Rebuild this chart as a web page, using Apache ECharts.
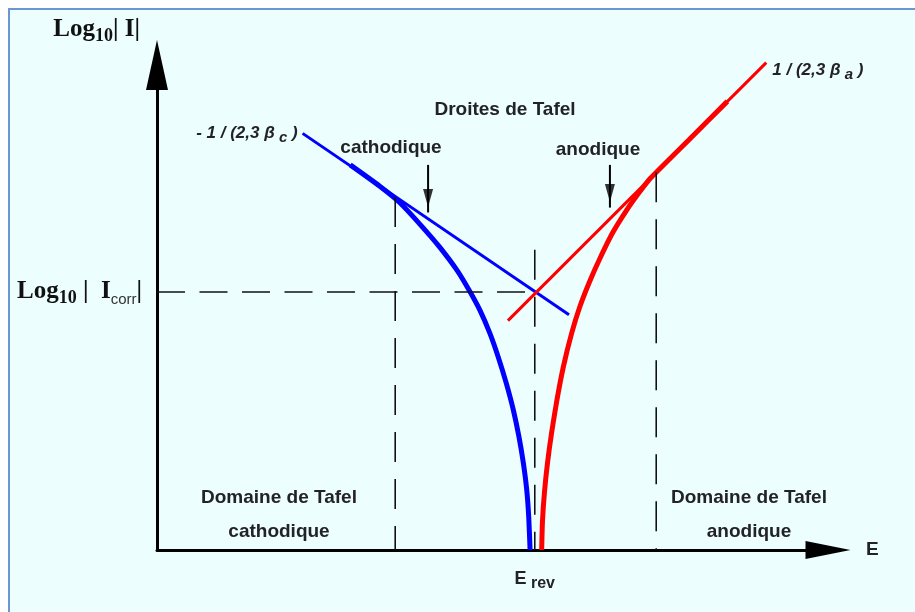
<!DOCTYPE html>
<html>
<head>
<meta charset="utf-8">
<script src="https://cdn.jsdelivr.net/npm/echarts@6/dist/echarts.min.js"></script>
<style>
  html, body { margin: 0; padding: 0; background: #ffffff; width: 915px; height: 612px; overflow: hidden; }
  #frame { position: absolute; left: 8px; top: 8px; width: 930px; height: 630px; background: #ecfefe;
           border-left: 2px solid #6a96d4; border-top: 2px solid #6a96d4; }
  #chart { position: absolute; left: 0; top: 0; width: 915px; height: 612px; }
</style>
</head>
<body>
<div id="frame"></div>
<div id="chart"></div>
<script>
// Tafel diagram: log10|I| versus electrode potential E (arbitrary units, 0..100 on both axes)

const E_REV = 56.3;        // reversible (corrosion) potential
const LOG_ICORR = 53.2;    // log10 |I_corr|

// measured polarisation curves
const cathodicCurve = [[28.8, 79.4], [33.2, 75.0], [36.2, 71.6], [39.3, 67.0], [42.1, 62.5], [44.7, 57.7],
                       [46.5, 53.6], [48.1, 49.5], [49.6, 44.7], [50.85, 39.8], [52.05, 34.4], [53.1, 28.9],
                       [53.95, 23.3], [54.6, 17.9], [55.1, 12.4], [55.4, 6.8], [55.6, 0]];
const anodicCurve = [[57.33, 0], [57.45, 6.0], [57.75, 12.0], [58.2, 18.0], [58.8, 24.1], [59.6, 30.9],
                     [60.55, 37.7], [61.8, 44.7], [63.0, 50.1], [64.4, 55.1], [65.9, 59.8], [67.9, 65.4],
                     [70.0, 70.1], [71.8, 73.6], [73.5, 76.6], [79.4, 84.75], [85.0, 92.5]];

// Tafel straight lines (start, end)
const cathodicTafel = [[21.7, 85.9], [61.4, 48.5]];
const anodicTafel = [[52.3, 47.3], [90.8, 100.5]];

// dashed guides
const cathodicDomainEdge = [[35.5, 72.8], [35.5, 0]];
const anodicDomainEdge = [[74.4, 77.9], [74.4, 0]];
const erevGuide = [[E_REV, 61.9], [E_REV, 0]];
const icorrGuide = [[0, LOG_ICORR], [E_REV, LOG_ICORR]];

// pointers from the "cathodique" / "anodique" captions down to the Tafel lines
const cathodicPointer = [[40.4, 79.4], [40.4, 69.6]];
const anodicPointer = [[67.5, 79.4], [67.5, 70.6]];
const pointerHeads = [[40.4, 72.6], [67.5, 73.6]];

const INK = '#222228';
const SANS = '"Liberation Sans", Arial, sans-serif';
const SERIF = '"Liberation Serif", "Times New Roman", serif';

const chart = echarts.init(document.getElementById('chart'), null, { renderer: 'canvas' });

const dashed = (data, dash) => ({
  type: 'line', data, z: 6, symbol: 'none', silent: true,
  lineStyle: { color: '#111', width: 1.6, type: dash }
});

const slopeRich = {
  t: { fontFamily: SANS, fontSize: 17, fontWeight: 'bold', fontStyle: 'italic', color: INK, lineHeight: 24, verticalAlign: 'middle' },
  s: { fontFamily: SANS, fontSize: 15, fontWeight: 'bold', fontStyle: 'italic', color: INK, lineHeight: 24, verticalAlign: 'bottom' }
};

const logRich = {
  a: { fontFamily: SERIF, fontSize: 25, fontWeight: 'bold', color: '#111', lineHeight: 30, verticalAlign: 'middle' },
  b: { fontFamily: SERIF, fontSize: 18, fontWeight: 'bold', color: '#111', lineHeight: 30, verticalAlign: 'bottom' },
  c: { fontFamily: SANS, fontSize: 15, color: '#333', lineHeight: 30, verticalAlign: 'bottom' }
};

const option = {
  animation: false,
  backgroundColor: 'transparent',
  grid: { left: 157, right: 87, top: 65, bottom: 62 },
  xAxis: {
    type: 'value', min: 0, max: 100,
    axisLine: { show: true, onZero: false, lineStyle: { color: '#000', width: 3 },
                symbol: ['none', 'triangle'], symbolSize: [18, 45] },
    axisTick: { show: false },
    splitLine: { show: false },
    axisLabel: {
      customValues: [E_REV], margin: 16,
      formatter: () => '{e|E}{s| rev}',
      rich: {
        e: { fontFamily: SANS, fontSize: 18, fontWeight: 'bold', color: INK, lineHeight: 26, verticalAlign: 'middle' },
        s: { fontFamily: SANS, fontSize: 16, fontWeight: 'bold', color: INK, lineHeight: 26, verticalAlign: 'bottom' }
      }
    },
    name: 'E', nameLocation: 'end', nameGap: 38,
    nameTextStyle: { fontFamily: SANS, fontSize: 19, fontWeight: 'bold', color: INK, verticalAlign: 'middle' }
  },
  yAxis: {
    type: 'value', min: 0, max: 100,
    axisLine: { show: true, onZero: false, lineStyle: { color: '#000', width: 3 },
                symbol: ['none', 'triangle'], symbolSize: [22, 50] },
    axisTick: { show: false },
    splitLine: { show: false },
    axisLabel: {
      customValues: [LOG_ICORR], margin: 15,
      formatter: () => '{a|Log}{b|10}{a| |  I}{c|corr}{a||}',
      rich: logRich
    },
    name: '{a|Log}{b|10}{a|| I|}', nameLocation: 'end', nameGap: 20,
    nameTextStyle: { align: 'right', padding: [0, 17, 0, 0], rich: logRich }
  },
  series: [
    { // cathodic Tafel line, slope label at its upper end
      type: 'line', z: 4, showSymbol: true, symbol: 'circle', symbolSize: 0, silent: true,
      lineStyle: { color: '#0000ff', width: 3 }, itemStyle: { color: '#0000ff' },
      data: cathodicTafel.map((p, i) => i === 0
        ? { value: p, label: { show: true, position: 'left', distance: 5, formatter: '{t|- 1 / (2,3 β}{s| c}{t| )}', rich: slopeRich } }
        : { value: p })
    },
    { // anodic Tafel line, slope label at its upper end
      type: 'line', z: 4, showSymbol: true, symbol: 'circle', symbolSize: 0, silent: true, clip: false,
      lineStyle: { color: '#ff0000', width: 3 }, itemStyle: { color: '#ff0000' },
      data: anodicTafel.map((p, i) => i === anodicTafel.length - 1
        ? { value: p, label: { show: true, position: 'right', distance: 6, offset: [0, 8], formatter: '{t|1 / (2,3 β}{s| a}{t| )}', rich: slopeRich } }
        : { value: p })
    },
    { type: 'line', z: 3, data: cathodicCurve, symbol: 'none', smooth: 0.2, silent: true,
      lineStyle: { color: '#0000ff', width: 5 } },
    { type: 'line', z: 3, data: anodicCurve, symbol: 'none', smooth: 0.2, silent: true,
      lineStyle: { color: '#ff0000', width: 5 } },
    dashed(cathodicDomainEdge, [30, 17]),
    dashed(anodicDomainEdge, [30, 17]),
    dashed(erevGuide, [30, 17]),
    dashed(icorrGuide, [28, 14.5]),
    { type: 'line', z: 7, data: cathodicPointer, symbol: 'none', silent: true, lineStyle: { color: '#000', width: 2 } },
    { type: 'line', z: 7, data: anodicPointer, symbol: 'none', silent: true, lineStyle: { color: '#000', width: 2 } },
    { type: 'scatter', z: 7, data: pointerHeads, symbol: 'triangle', symbolRotate: 180, symbolSize: [10, 18],
      silent: true, itemStyle: { color: '#000' } }
  ],
  graphic: [
    { type: 'text', x: 505, y: 110, style: { text: 'Droites de Tafel', font: 'bold 19px ' + SANS, fill: INK, align: 'center', verticalAlign: 'middle' } },
    { type: 'text', x: 391, y: 148, style: { text: 'cathodique', font: 'bold 19px ' + SANS, fill: INK, align: 'center', verticalAlign: 'middle' } },
    { type: 'text', x: 598, y: 150, style: { text: 'anodique', font: 'bold 19px ' + SANS, fill: INK, align: 'center', verticalAlign: 'middle' } },
    { type: 'text', x: 279, y: 515, style: { text: 'Domaine de Tafel\ncathodique', font: 'bold 19px ' + SANS, lineHeight: 34, fill: INK, align: 'center', verticalAlign: 'middle' } },
    { type: 'text', x: 749, y: 515, style: { text: 'Domaine de Tafel\nanodique', font: 'bold 19px ' + SANS, lineHeight: 34, fill: INK, align: 'center', verticalAlign: 'middle' } }
  ]
};

chart.setOption(option);
</script>
</body>
</html>
